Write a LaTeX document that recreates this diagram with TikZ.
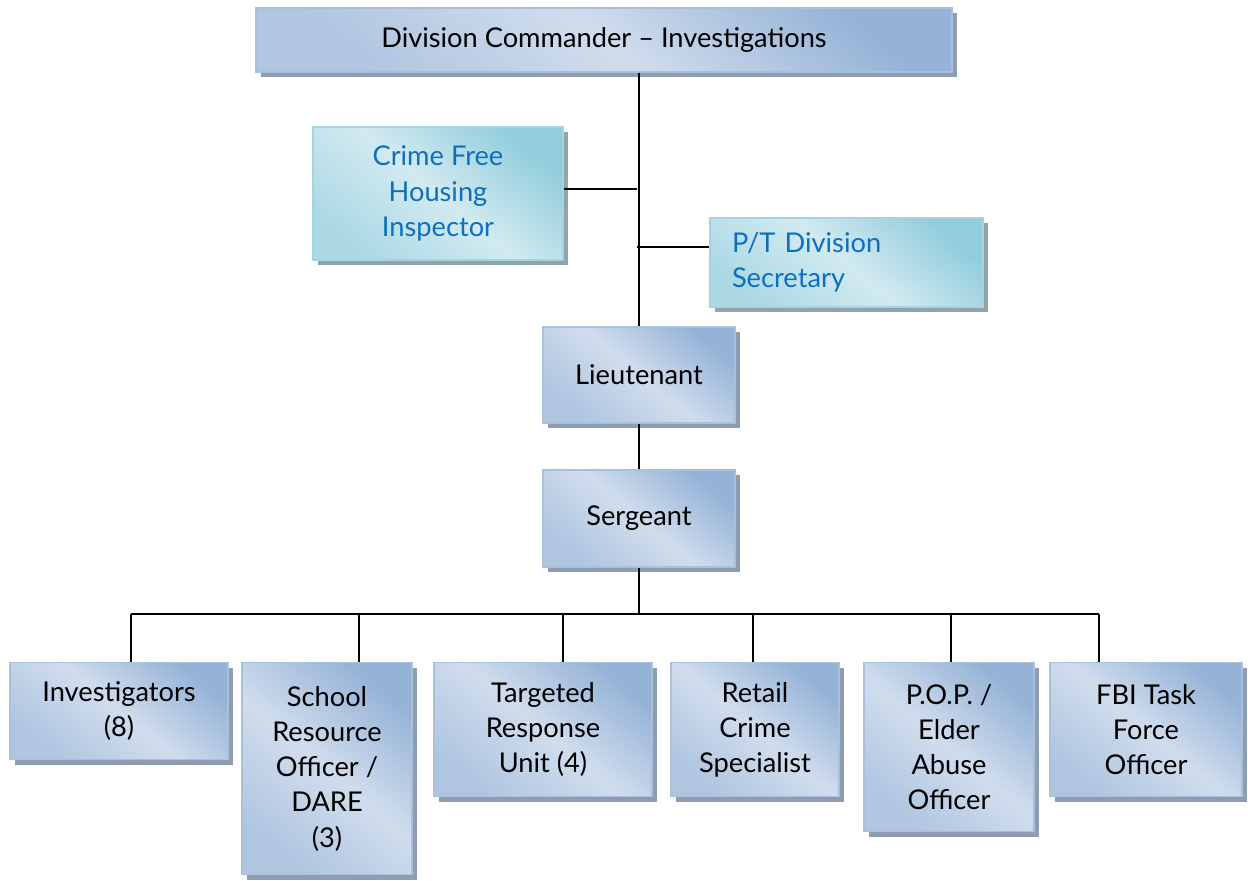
\documentclass[tikz,border=0pt]{standalone}
\usepackage{fontspec}
\setmainfont{Lato}
\usetikzlibrary{shadows}

\definecolor{boxBlue}{HTML}{95B3D7}
\definecolor{boxLight}{HTML}{DFE7F2}
\definecolor{boxEdge}{HTML}{A9C0DD}
\definecolor{boxShade}{HTML}{8E9DB1}
\definecolor{tealDark}{HTML}{92CDDC}
\definecolor{tealLight}{HTML}{DDEFF4}
\definecolor{tealEdge}{HTML}{A6D3DF}
\definecolor{tealShade}{HTML}{8FA4AB}
\definecolor{tealText}{HTML}{0E6FC1}

\begin{document}
\begin{tikzpicture}[nodeBase/.style={rectangle, line width=0.8pt, align=center, inner sep=2pt, font=\fontsize{15.5}{20}\selectfont}, blueBox/.style={nodeBase, draw=boxEdge, top color=boxBlue, bottom color=boxBlue!65!boxLight, middle color=boxLight!80!boxBlue, shading angle=-40, general shadow={fill=boxShade, shadow xshift=0.1cm, shadow yshift=-0.1cm}}, tealBox/.style={nodeBase, draw=tealEdge, text=tealText, top color=tealDark, bottom color=tealDark!65!tealLight, middle color=tealLight!85!tealDark, shading angle=-40, general shadow={fill=tealShade, shadow xshift=0.1cm, shadow yshift=-0.1cm}}, lineStyle/.style={line width=1pt}]
    \useasboundingbox (0,0) rectangle (24.96,-17.6);

    \node[blueBox, minimum width=13.92cm, minimum height=1.28cm] (div_cmd) at (12.08,-0.80) {Division Commander -- Investigations};

    \node[tealBox, minimum width=5.00cm, minimum height=2.66cm] (crime_free) at (8.76,-3.87) {Crime Free\\Housing\\Inspector};
    \node[tealBox, minimum width=5.46cm, minimum height=1.78cm, text width=4.58cm, align=left] (pt_sec) at (16.93,-5.25) {P/T Division\\Secretary};

    \node[blueBox, minimum width=3.84cm, minimum height=1.92cm] (lt_0)  at (12.78,-7.50)  {Lieutenant};
    \node[blueBox, minimum width=3.84cm, minimum height=1.94cm] (sgt_0) at (12.78,-10.37) {Sergeant};

    \node[blueBox, anchor=north, minimum width=4.36cm, minimum height=1.94cm] (inv_0) at ( 2.38,-13.24) {Investigators\\(8)};
    \node[blueBox, anchor=north, minimum width=3.40cm, minimum height=4.24cm] (sro_0) at ( 6.54,-13.24) {School\\Resource\\Officer /\\DARE\\(3)};
    \node[blueBox, anchor=north, minimum width=4.36cm, minimum height=2.68cm] (tru_0) at (10.86,-13.24) {Targeted\\Response\\Unit (4)};
    \node[blueBox, anchor=north, minimum width=3.36cm, minimum height=2.68cm] (rcs_0) at (15.10,-13.24) {Retail\\Crime\\Specialist};
    \node[blueBox, anchor=north, minimum width=3.40cm, minimum height=3.38cm] (pop_0) at (18.98,-13.24) {P.O.P. /\\Elder\\Abuse\\Officer};
    \node[blueBox, anchor=north, minimum width=3.84cm, minimum height=2.68cm] (fbi_0) at (22.92,-13.24) {FBI Task\\Force\\Officer};

    \coordinate (cfh_j) at (12.74,-3.78);
    \coordinate (pts_j) at (12.74,-4.94);

    \coordinate (bus_inv) at ( 2.62,-12.28);
    \coordinate (bus_sro) at ( 7.18,-12.28);
    \coordinate (bus_tru) at (11.26,-12.28);
    \coordinate (bus_rcs) at (15.06,-12.28);
    \coordinate (bus_pop) at (19.02,-12.28);
    \coordinate (bus_fbi) at (21.98,-12.28);

    \draw[lineStyle] (div_cmd.south -| lt_0.north) -- (lt_0.north);
    \draw[lineStyle] (crime_free.east |- cfh_j) -- (cfh_j);
    \draw[lineStyle] (pts_j) -- (pt_sec.west |- pts_j);
    \draw[lineStyle] (lt_0.south) -- (sgt_0.north);

    \draw[lineStyle] (sgt_0.south) -- (sgt_0.south |- bus_inv);
    \draw[lineStyle] (bus_inv) -- (bus_fbi);
    \foreach \n in {inv,sro,tru,rcs,pop,fbi}
        \draw[lineStyle] (bus_\n) -- (bus_\n |- \n_0.north);
\end{tikzpicture}
\end{document}
